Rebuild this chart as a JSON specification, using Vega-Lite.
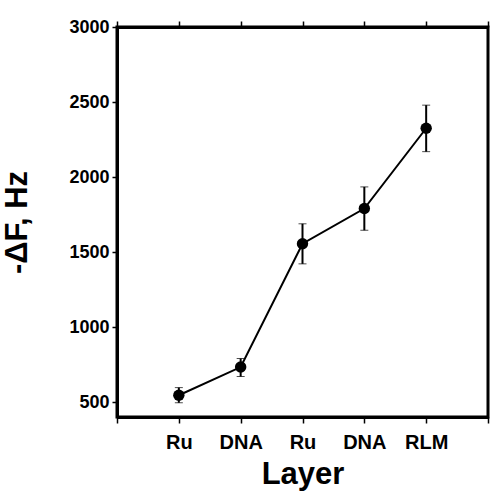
{
  "$schema": "https://vega.github.io/schema/vega-lite/v6.json",
  "width": 371,
  "height": 390,
  "autosize": "none",
  "padding": {"left": 117, "top": 27, "right": 2, "bottom": 78},
  "background": "white",
  "config": {
    "view": {"stroke": "black", "strokeWidth": 3},
    "font": "Liberation Sans",
    "axis": {"grid": false, "domainColor": "black", "domainWidth": 3, "tickColor": "black", "tickWidth": 1.5, "tickSize": 6, "labelFont": "Liberation Sans", "labelFontWeight": "bold", "labelColor": "black", "titleFont": "Liberation Sans", "titleFontWeight": "bold", "titleColor": "black"}
  },
  "data": {
    "values": [
      {"pos": 1, "layer": "Ru", "value": 545, "lo": 495, "hi": 596},
      {"pos": 2, "layer": "DNA", "value": 733, "lo": 670, "hi": 790},
      {"pos": 3, "layer": "Ru", "value": 1555, "lo": 1421, "hi": 1688},
      {"pos": 4, "layer": "DNA", "value": 1790, "lo": 1645, "hi": 1934},
      {"pos": 5, "layer": "RLM", "value": 2325, "lo": 2169, "hi": 2479}
    ]
  },
  "layer": [
    {
      "layer": [
        {
          "mark": {"type": "errorbar", "ticks": {"size": 8, "color": "black", "strokeWidth": 2}, "rule": {"color": "black", "strokeWidth": 2}},
          "encoding": {
            "x": {"field": "pos", "type": "quantitative", "scale": {"domain": [0, 6]},
              "axis": {"orient": "bottom", "values": [0, 1, 2, 3, 4, 5, 6], "labelExpr": "datum.value == 1 ? 'Ru' : datum.value == 2 ? 'DNA' : datum.value == 3 ? 'Ru' : datum.value == 4 ? 'DNA' : datum.value == 5 ? 'RLM' : ''", "title": "Layer", "titleFontSize": 31, "titlePadding": 7, "labelPadding": 9, "labelFontSize": 20}},
            "y": {"field": "lo", "type": "quantitative", "scale": {"domain": [500, 3000]},
              "axis": {"values": [500, 1000, 1500, 2000, 2500, 3000], "format": "d", "title": "-ΔF, Hz", "titleFontSize": 31, "titlePadding": 35, "labelPadding": 3, "tickSize": 5, "labelFontSize": 18}},
            "y2": {"field": "hi"}
          }
        },
        {
          "mark": {"type": "line", "color": "black", "strokeWidth": 2},
          "encoding": {
            "x": {"field": "pos", "type": "quantitative"},
            "y": {"field": "value", "type": "quantitative"}
          }
        },
        {
          "mark": {"type": "point", "filled": true, "color": "black", "size": 130, "opacity": 1},
          "encoding": {
            "x": {"field": "pos", "type": "quantitative"},
            "y": {"field": "value", "type": "quantitative"}
          }
        }
      ]
    },
    {
      "mark": {"type": "point", "opacity": 0},
      "encoding": {
        "x": {"field": "pos", "type": "quantitative", "axis": {"orient": "top", "values": [0, 1, 2, 3, 4, 5, 6], "labels": false, "title": null}},
        "y": {"field": "value", "type": "quantitative"}
      }
    }
  ],
  "resolve": {"axis": {"x": "independent"}}
}
